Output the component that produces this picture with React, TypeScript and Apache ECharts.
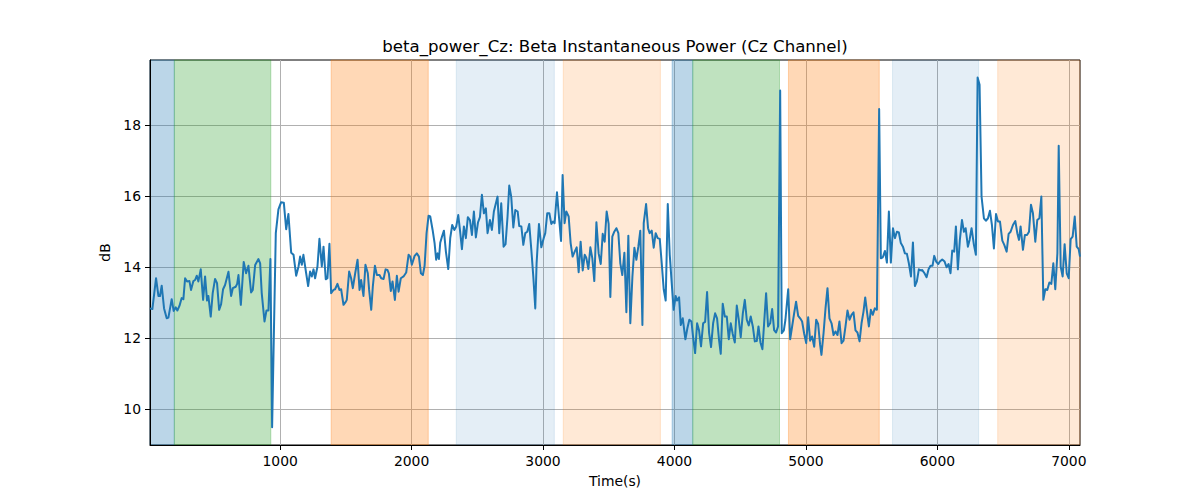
import { useEffect, useRef } from 'react';
import * as echarts from 'echarts';

// sample times (s) and beta power (dB)
const timeS = [
  10, 28, 56, 74, 86, 99, 117, 137, 150, 175, 190, 206, 218, 234, 251, 264, 277, 292, 310, 322,
  340, 353, 366, 378, 396, 414, 429, 444, 454, 472, 487, 505, 520, 536, 551, 566, 581, 607, 627, 640,
  662, 673, 683, 701, 723, 741, 759, 779, 792, 810, 835, 848, 860, 881, 896, 911, 926, 939, 952, 967,
  987, 1007, 1028, 1046, 1063, 1084, 1102, 1122, 1140,
  1152, 1165, 1177, 1198, 1213, 1228, 1241, 1254, 1266, 1284, 1299, 1317, 1330, 1347, 1360, 1375, 1388, 1406, 1418, 1436,
  1451, 1464, 1482, 1500, 1507, 1525, 1540, 1553, 1571, 1589, 1604, 1616, 1634, 1649, 1667, 1677, 1693, 1705, 1721, 1736,
  1756, 1769, 1787, 1802, 1817, 1827, 1842, 1855, 1873, 1888, 1901, 1918, 1939, 1959, 1977, 1990, 2002, 2023, 2040, 2056,
  2071, 2086, 2099, 2114, 2129, 2142, 2160, 2175, 2187, 2198, 2208, 2218, 2231, 2246, 2261, 2279, 2294, 2309, 2325, 2340, 2355,
  2368, 2383, 2398, 2413, 2428, 2444, 2459, 2474, 2489, 2505, 2520, 2535, 2550, 2565, 2578, 2596, 2611, 2626, 2654, 2667,
  2682, 2700, 2715, 2730, 2743, 2758, 2774, 2789, 2807, 2819, 2835, 2850, 2865, 2880, 2895, 2911, 2926, 2941, 2951, 2969,
  2987, 3005, 3017, 3032, 3048, 3063, 3076, 3088, 3106, 3121, 3137, 3149, 3164, 3177, 3195, 3210, 3225, 3241, 3256, 3271,
  3286, 3302, 3317, 3329, 3345, 3360, 3375, 3390, 3406, 3423, 3439, 3454, 3469, 3484, 3499, 3512, 3527,
  3542, 3558, 3573, 3588, 3603, 3619, 3634, 3649, 3664, 3680, 3695, 3710, 3725, 3740, 3756, 3766, 3784, 3799, 3811, 3827,
  3842, 3857, 3872, 3888, 3903, 3918, 3933, 3949, 3964, 3979, 3994, 4009, 4020, 4035, 4048, 4063, 4083, 4098, 4113, 4129,
  4141, 4157, 4172, 4187, 4202, 4218, 4233, 4248, 4263, 4278, 4294, 4309, 4324, 4339, 4352, 4367, 4383, 4398, 4413, 4428,
  4443, 4459, 4474, 4489, 4504, 4520, 4535, 4550, 4565, 4580, 4596, 4611, 4626, 4639, 4654, 4669, 4682, 4697,
  4712, 4728, 4743, 4758, 4773, 4788, 4804, 4816, 4832, 4844, 4865, 4880, 4895, 4910, 4925, 4941, 4956, 4971, 4986, 5002,
  5017, 5032, 5047, 5063, 5078, 5093, 5108, 5118, 5134, 5149, 5164, 5179, 5195, 5210, 5225, 5240, 5255, 5271, 5286, 5301,
  5316, 5332, 5347, 5362, 5377, 5392, 5408, 5423, 5438, 5451, 5466, 5479, 5494, 5509, 5524, 5540, 5557, 5570, 5585, 5601,
  5616, 5631, 5646, 5662, 5677, 5692, 5707, 5722, 5738, 5753, 5768, 5783, 5799, 5814, 5829, 5844, 5859, 5875,
  5885, 5902, 5918, 5933, 5948, 5963, 5976, 5991, 6007, 6019, 6037, 6055, 6070, 6085, 6100, 6113, 6128, 6141, 6156, 6171,
  6187, 6202, 6215, 6232, 6245, 6260, 6278, 6293, 6306, 6321, 6336, 6354, 6369, 6385, 6400, 6415, 6430, 6446, 6461, 6476,
  6494, 6509, 6527, 6542, 6557, 6575, 6593, 6608, 6621, 6633, 6651, 6666, 6682, 6697, 6712, 6727, 6745, 6760, 6776, 6791,
  6806, 6821, 6836, 6852, 6867, 6882, 6897, 6913, 6923, 6938, 6953, 6968, 6984, 6999, 7014, 7029, 7045, 7060, 7075, 7085,
];

const betaDb = [
  12.84, 12.82, 13.69, 13.19, 13.19, 13.48, 12.84, 12.56, 12.58, 13.10, 12.77, 12.87, 12.78, 12.91, 13.13, 13.10, 13.69, 13.60, 13.61, 13.36,
  13.61, 13.64, 13.76, 13.60, 13.94, 13.08, 13.74, 13.06, 13.19, 12.61, 13.27, 13.67, 13.55, 12.80, 12.96, 13.38, 13.50, 13.87, 13.19, 13.41,
  13.45, 13.53, 13.78, 12.94, 14.15, 13.83, 14.04, 13.29, 13.36, 14.06, 14.23, 14.11, 13.27, 12.47, 12.78, 12.78, 14.23, 9.49, 12.05, 14.96,
  15.63, 15.83, 15.82, 15.07, 15.50, 14.41, 14.35, 13.76, 14.02,
  14.30, 14.07, 14.35, 13.83, 13.47, 13.88, 13.74, 13.94, 13.69, 14.02, 14.80, 14.02, 14.58, 13.66, 13.69, 14.66, 13.27, 13.36, 13.38, 13.53,
  13.36, 13.38, 12.94, 13.03, 13.08, 13.88, 13.69, 13.41, 13.83, 14.21, 13.36, 13.64, 13.19, 14.07, 13.83, 13.36, 12.80, 13.45, 14.04, 13.78,
  13.78, 13.69, 13.67, 13.94, 13.92, 13.83, 13.33, 13.60, 13.08, 13.76, 13.31, 13.69, 13.74, 13.85, 14.35, 14.30, 14.07, 14.32, 14.39, 14.30,
  13.83, 13.78, 14.04, 14.96, 15.45, 15.43, 15.05, 14.68, 14.21, 14.39, 14.23, 14.69, 14.86, 15.03, 14.44, 13.95, 14.82, 15.19, 15.05, 15.15, 15.47,
  15.05, 14.51, 15.15, 14.82, 15.41, 15.33, 14.91, 15.57, 14.84, 15.26, 15.41, 16.04, 15.52, 15.66, 14.96, 15.33, 15.05, 15.57, 15.99, 14.96,
  15.80, 14.58, 14.65, 15.43, 16.30, 15.99, 15.12, 15.61, 15.57, 15.16, 15.15, 14.63, 14.96, 15.00, 15.22, 14.49, 13.74, 12.84, 14.11, 15.22,
  14.56, 14.82, 14.96, 15.52, 15.52, 15.22, 15.29, 15.24, 16.11, 15.43, 14.74, 16.60, 15.24, 15.57, 15.43, 14.68, 14.30, 14.44, 14.56, 13.86,
  14.72, 13.91, 14.35, 14.27, 13.95, 14.56, 14.25, 13.61, 15.27, 14.39, 14.09, 14.94, 14.72, 15.57, 15.22, 13.16, 14.86,
  15.00, 15.10, 14.96, 14.11, 13.78, 14.41, 12.73, 14.89, 12.42, 13.74, 14.55, 14.21, 14.58, 15.03, 12.37, 15.24, 15.78, 15.10, 14.96, 15.03,
  14.55, 14.96, 14.82, 14.80, 14.11, 13.38, 13.06, 15.78, 14.35, 13.55, 12.80, 13.19, 13.06, 13.15, 12.37, 12.56, 11.97, 12.28, 12.52, 12.47,
  12.05, 11.58, 12.42, 12.22, 11.77, 12.42, 12.46, 13.30, 12.16, 11.75, 12.42, 12.70, 12.56, 11.95, 11.56, 12.97, 12.61, 12.61, 11.97, 12.42,
  12.12, 11.88, 12.92, 12.52, 12.03, 12.70, 13.08, 12.52, 12.36, 12.61, 12.33, 11.91, 11.92, 12.33, 11.88, 11.69, 12.42, 13.27,
  12.33, 12.42, 12.82, 12.23, 12.16, 12.33, 18.98, 12.14, 12.22, 12.52, 13.38, 11.97, 12.33, 12.69, 13.03, 12.63, 12.56, 12.47, 12.14, 11.86,
  12.59, 11.93, 12.05, 11.76, 12.52, 12.40, 11.81, 11.53, 12.14, 12.84, 13.41, 12.56, 12.42, 12.09, 12.19, 12.09, 12.47, 11.86, 11.93, 12.33,
  12.78, 12.52, 12.66, 12.73, 12.22, 12.16, 11.91, 12.42, 12.75, 13.15, 12.70, 12.33, 12.80, 12.66, 12.84, 12.80, 18.46, 14.25, 14.28, 14.46,
  14.13, 15.57, 14.13, 15.10, 14.82, 15.00, 14.98, 14.68, 14.58, 14.39, 14.38, 14.11, 13.74, 14.70, 13.47, 13.60, 13.94, 13.91,
  13.92, 13.83, 13.72, 13.94, 14.04, 14.04, 14.32, 14.16, 14.09, 14.16, 14.22, 14.16, 14.00, 14.09, 13.83, 14.47, 14.44, 15.15, 13.94, 14.77,
  15.33, 15.00, 15.10, 14.58, 14.77, 15.10, 14.63, 14.35, 19.35, 19.14, 15.99, 15.38, 15.31, 15.38, 15.59, 15.19, 14.53, 15.50, 15.29, 15.29,
  14.75, 14.63, 14.44, 14.94, 15.00, 15.19, 15.30, 14.96, 14.77, 15.15, 14.49, 14.91, 14.91, 15.00, 15.76, 15.52, 14.72, 15.33, 15.38, 15.99,
  13.08, 13.38, 13.36, 13.57, 13.53, 14.11, 13.38, 14.39, 17.42, 14.02, 13.74, 14.65, 13.83, 13.69, 14.79, 14.86, 15.43, 14.58, 14.51, 14.30,
];

// shaded epochs (s); kind picks the colour below
const spanStart = [10, 195, 1388, 2340, 3154, 3982, 4139, 4867, 5659, 6459];
const spanEnd = [195, 929, 2127, 3086, 3893, 4139, 4799, 5558, 6314, 7085];
const spanKind = [0, 1, 2, 3, 4, 0, 1, 2, 3, 4];

const xTicks = [1000, 2000, 3000, 4000, 5000, 6000, 7000];
const yTicks = [10, 12, 14, 16, 18];

const kindFill = [
  'rgba(31,119,180,0.3)',
  'rgba(44,160,44,0.3)',
  'rgba(255,127,14,0.3)',
  'rgba(31,119,180,0.12)',
  'rgba(255,127,14,0.17)',
];

const FONT = 'DejaVu Sans';

export default function App() {
  const chartRef = useRef<HTMLDivElement>(null);

  useEffect(() => {
    if (!chartRef.current) return;
    document.body.style.margin = '0';
    const chart = echarts.init(chartRef.current, undefined, { renderer: 'svg' });

    const areas = spanStart.map((s, i) => [
      {
        xAxis: s,
        itemStyle: {
          color: kindFill[spanKind[i]],
          borderColor: kindFill[spanKind[i]],
          borderWidth: 1,
        },
      },
      { xAxis: spanEnd[i] },
    ]);

    const option = {
      animation: false,
      textStyle: { fontFamily: FONT },
      grid: {
        left: 150,
        right: 120,
        top: 60,
        bottom: 55,
        show: true,
        borderColor: '#000',
        borderWidth: 1,
      },
      xAxis: {
        type: 'value',
        min: 10,
        max: 7085,
        z: 1,
        name: 'Time(s)',
        nameLocation: 'middle',
        nameGap: 29,
        nameTextStyle: { fontSize: 13.9, color: '#000', fontFamily: FONT },
        axisLine: { show: true, onZero: false, lineStyle: { color: '#000', width: 1 } },
        axisTick: { show: true, length: 5, customValues: xTicks, lineStyle: { color: '#000', width: 1 } },
        axisLabel: {
          customValues: xTicks,
          margin: 9,
          fontSize: 13.9,
          color: '#000',
          fontFamily: FONT,
          formatter: (v: number) => String(v),
        },
        splitLine: { show: true, lineStyle: { color: '#b0b0b0', width: 1 } },
      },
      yAxis: {
        type: 'value',
        min: 8.99,
        max: 19.84,
        z: 1,
        name: 'dB',
        nameLocation: 'middle',
        nameGap: 33,
        nameTextStyle: { fontSize: 13.9, color: '#000', fontFamily: FONT },
        axisLine: { show: true, onZero: false, lineStyle: { color: '#000', width: 1 } },
        axisTick: { show: true, length: 5, customValues: yTicks, lineStyle: { color: '#000', width: 1 } },
        axisLabel: {
          customValues: yTicks,
          margin: 9,
          fontSize: 13.9,
          color: '#000',
          fontFamily: FONT,
          formatter: (v: number) => String(v),
        },
        splitLine: { show: true, lineStyle: { color: '#b0b0b0', width: 1 } },
      },
      graphic: [
        {
          type: 'text',
          x: 615,
          y: 46,
          style: {
            text: 'beta_power_Cz: Beta Instantaneous Power (Cz Channel)',
            fontSize: 16.6,
            fontFamily: FONT,
            fill: '#000',
            textAlign: 'center',
            textVerticalAlign: 'middle',
          },
        },
      ],
      series: [
        {
          name: 'epochs',
          type: 'line',
          z: -1,
          data: [],
          silent: true,
          markArea: { silent: true, data: areas },
        },
        {
          name: 'beta_power_Cz',
          type: 'line',
          z: 3,
          showSymbol: false,
          data: timeS.map((t, i) => [t, betaDb[i]]),
          lineStyle: { color: '#1f77b4', width: 2, join: 'round' },
          itemStyle: { color: '#1f77b4' },
        },
      ],
    };

    chart.setOption(option as echarts.EChartsOption);

    return () => {
      chart.dispose();
    };
  }, []);

  return <div ref={chartRef} style={{ width: 1200, height: 500 }} />;
}
